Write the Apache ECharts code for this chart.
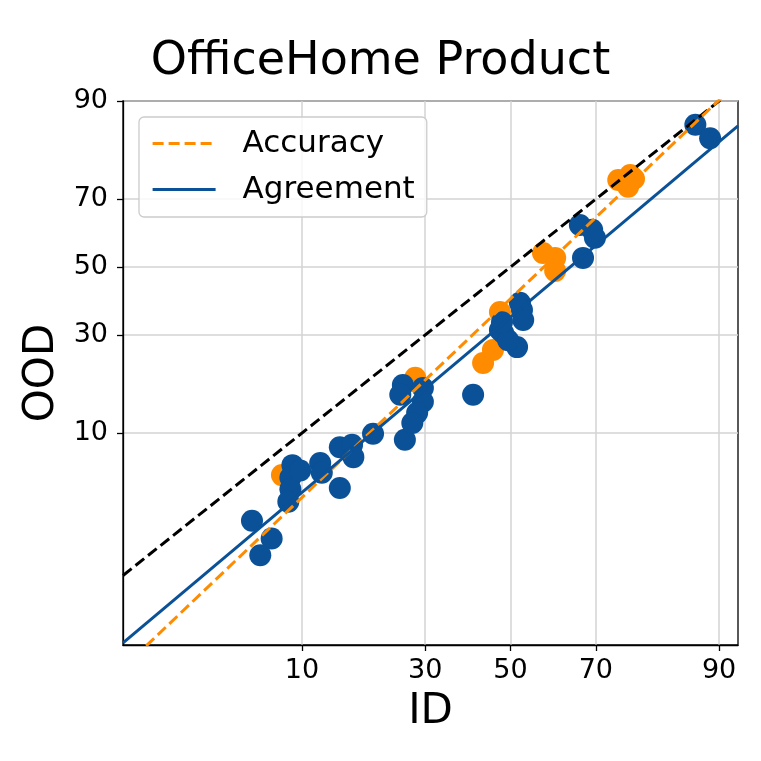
<!DOCTYPE html>
<html>
<head>
<meta charset="utf-8">
<script src="https://cdn.jsdelivr.net/npm/echarts@6/dist/echarts.min.js"></script>
<style>html,body{margin:0;padding:0;background:#fff}#c{width:761px;height:761px}</style>
</head>
<body>
<div id="c"></div>
<script>
// ---- data (percent) ----
const agreementID = [5.6, 7.1, 6.2, 9.0, 8.8, 8.8, 8.6, 9.8, 12.1, 12.3, 14.7, 16.5, 16.7, 14.7, 19.9, 25.8, 25.4, 24.9, 29.5, 29.5, 28.3, 27.3, 40.9, 47.4, 48.2, 52.3, 52.8, 53.1, 51.6, 49.4, 47.9, 67.2, 66.5, 69.2, 69.8, 87.2, 89.0];
const agreementOOD = [2.5, 1.8, 1.3, 6.3, 5.2, 4.3, 3.5, 5.8, 6.5, 5.6, 8.2, 8.5, 7.1, 4.4, 9.9, 9.1, 18.1, 16.2, 17.5, 14.9, 13.0, 11.4, 16.2, 31.3, 30.5, 39.1, 37.0, 34.1, 26.8, 28.6, 33.5, 52.8, 62.7, 61.3, 58.9, 86.4, 84.0];
const accuracyID = [8.0, 27.9, 43.3, 45.7, 47.4, 57.9, 60.8, 60.8, 74.6, 76.9, 76.5, 77.6];
const accuracyOOD = [5.4, 19.6, 22.9, 26.1, 36.4, 54.3, 52.8, 48.8, 74.9, 76.1, 73.2, 75.2];
const tickValues = [10, 30, 50, 70, 90];
const tickLabels = ['10', '30', '50', '70', '90'];
// linear fits in probit space: y = slope * x + intercept
const accuracyFit = { slope: 1.197, intercept: -0.245 };
const agreementFit = { slope: 1.056, intercept: -0.387 };
// axis limits in probit units
const xLimits = [-2.382, 1.398];
const yLimits = [-2.919, 1.2816];

// inverse normal CDF (Acklam)
function probit(p) {
  const a = [-3.969683028665376e+01, 2.209460984245205e+02, -2.759285104469687e+02, 1.383577518672690e+02, -3.066479806614716e+01, 2.506628277459239e+00];
  const b = [-5.447609879822406e+01, 1.615858368580409e+02, -1.556989798598866e+02, 6.680131188771972e+01, -1.328068155288572e+01];
  const c = [-7.784894002430293e-03, -3.223964580411365e-01, -2.400758277161838e+00, -2.549732539343734e+00, 4.374664141464968e+00, 2.938163982698783e+00];
  const d = [7.784695709041462e-03, 3.224671290700398e-01, 2.445134137142996e+00, 3.754408661907416e+00];
  const pl = 0.02425, ph = 1 - pl;
  let q, r;
  if (p < pl) {
    q = Math.sqrt(-2 * Math.log(p));
    return (((((c[0]*q+c[1])*q+c[2])*q+c[3])*q+c[4])*q+c[5]) / ((((d[0]*q+d[1])*q+d[2])*q+d[3])*q+1);
  } else if (p <= ph) {
    q = p - 0.5; r = q*q;
    return (((((a[0]*r+a[1])*r+a[2])*r+a[3])*r+a[4])*r+a[5])*q / (((((b[0]*r+b[1])*r+b[2])*r+b[3])*r+b[4])*r+1);
  } else {
    q = Math.sqrt(-2 * Math.log(1 - p));
    return -(((((c[0]*q+c[1])*q+c[2])*q+c[3])*q+c[4])*q+c[5]) / ((((d[0]*q+d[1])*q+d[2])*q+d[3])*q+1);
  }
}
const pr = v => probit(v / 100);
const tickPos = tickValues.map(pr);
function fmt(v) {
  for (let i = 0; i < tickPos.length; i++) if (Math.abs(tickPos[i] - v) < 1e-6) return tickLabels[i];
  return '';
}
const pts = (xs, ys) => xs.map((x, i) => [pr(x), pr(ys[i])]);
const fitLine = f => [[xLimits[0], f.slope * xLimits[0] + f.intercept], [xLimits[1], f.slope * xLimits[1] + f.intercept]];

const FONT = 'DejaVu Sans';
const ORANGE = '#ff8c00';
const BLUE = '#0a5197';

function axisCommon(labelMargin) {
  return {
    type: 'value',
    axisLine: { show: true, onZero: false, lineStyle: { color: '#000', width: 1.3 } },
    axisTick: { show: true, inside: false, length: 6, customValues: tickPos, lineStyle: { color: '#000', width: 1.3 } },
    axisLabel: { customValues: tickPos, formatter: fmt, margin: labelMargin, fontFamily: FONT, fontSize: 27, color: '#000' },
    splitLine: { show: true, lineStyle: { color: '#d3d3d3', width: 1.5 } },
    nameLocation: 'middle',
    nameTextStyle: { fontFamily: FONT, fontSize: 42, color: '#000' }
  };
}

const chart = echarts.init(document.getElementById('c'), null, { renderer: 'canvas' });
chart.setOption({
  animation: false,
  backgroundColor: '#fff',
  title: {
    text: 'OfficeHome Product', left: 'center', top: 34,
    textStyle: { fontFamily: FONT, fontSize: 46, fontWeight: 'normal', color: '#000' }
  },
  grid: { left: 123, right: 23, top: 101, bottom: 116, show: true, borderColor: '#000', borderWidth: 1.3, backgroundColor: 'transparent' },
  xAxis: Object.assign(axisCommon(12), { min: xLimits[0], max: xLimits[1], name: 'ID', nameGap: 46 }),
  yAxis: Object.assign(axisCommon(15), { min: yLimits[0], max: yLimits[1], name: 'OOD', nameGap: 59 }),
  legend: {
    data: [
      { name: 'Accuracy', lineStyle: { color: ORANGE, width: 3.2, type: [11, 5] } },
      { name: 'Agreement', lineStyle: { color: BLUE, width: 3.2, type: 'solid' } }
    ],
    orient: 'vertical', left: 139, top: 117,
    itemWidth: 63, itemHeight: 14, itemGap: 15,
    padding: [11, 12, 12, 12],
    borderColor: '#cccccc', borderWidth: 1.3, borderRadius: 5,
    backgroundColor: 'rgba(255,255,255,0.8)',
    itemStyle: { opacity: 0 },
    textStyle: { fontFamily: FONT, fontSize: 31, color: '#000', padding: [0, 0, 0, 22] }
  },
  series: [
    { name: 'accPts', type: 'scatter', data: pts(accuracyID, accuracyOOD), symbolSize: 22, itemStyle: { color: ORANGE, opacity: 1 }, z: 2 },
    { name: 'agrPts', type: 'scatter', data: pts(agreementID, agreementOOD), symbolSize: 22, itemStyle: { color: BLUE, opacity: 1 }, z: 2 },
    { name: 'identity', type: 'line', data: [[xLimits[0], xLimits[0]], [xLimits[1], xLimits[1]]], symbol: 'none', lineStyle: { color: '#000', width: 3, type: [11, 5] }, z: 4 },
    { name: 'Accuracy', type: 'line', data: fitLine(accuracyFit), symbol: 'none', color: ORANGE, lineStyle: { color: ORANGE, width: 3, type: [11, 5] }, z: 4 },
    { name: 'Agreement', type: 'line', data: fitLine(agreementFit), symbol: 'none', color: BLUE, lineStyle: { color: BLUE, width: 3 }, z: 4 }
  ]
});
</script>
</body>
</html>
